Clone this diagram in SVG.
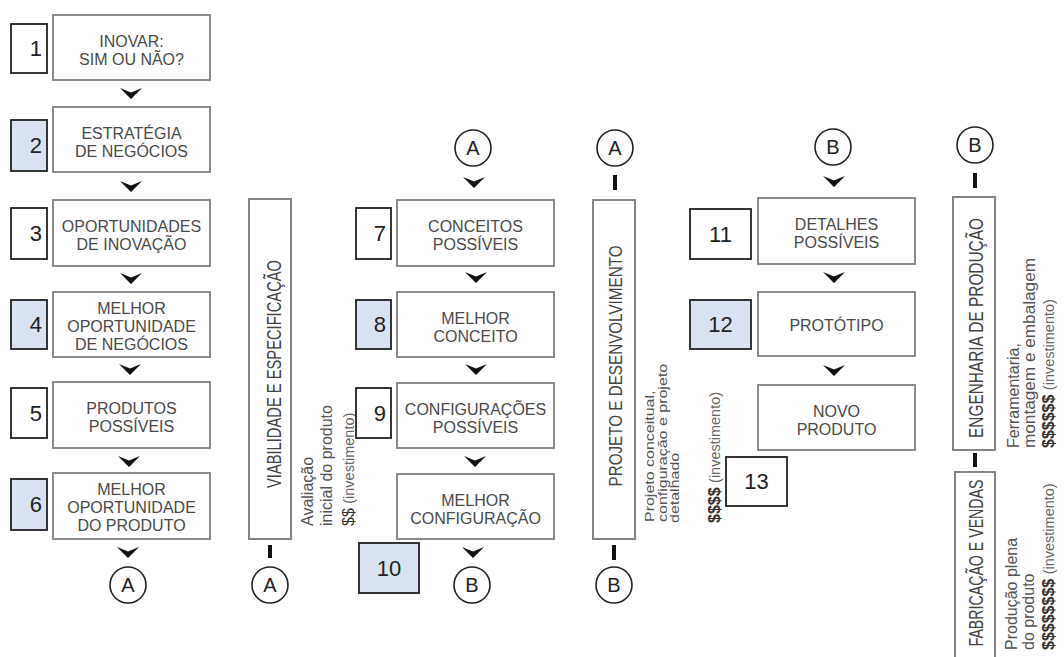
<svg xmlns="http://www.w3.org/2000/svg" width="1064" height="657" viewBox="0 0 1064 657">
  <style>
    text { font-family: "Liberation Sans", Arial, sans-serif; }
    .box { fill: #fff; stroke: #8c8c8c; stroke-width: 2; }
    .bar { fill: #fff; stroke: #858585; stroke-width: 2; }
    .num { fill: #fff; stroke: #222; stroke-width: 1.8; }
    .num.hl { fill: #d9e2f0; }
    .lbl { font-size: 16px; fill: #4a4a4a; text-anchor: middle; }
    .digit { font-size: 22px; fill: #222; }
    .digit.r { text-anchor: end; }
    .digit.c { text-anchor: middle; }
    .vlbl { font-size: 15px; fill: #444; text-anchor: middle; }
    .note { font-size: 16px; fill: #555; }
    .cash { fill: #333; }
    .inv { font-size: 14.5px; fill: #666; }
    .circ { fill: #fff; stroke: #222; stroke-width: 1.6; }
    .clbl { font-size: 20px; fill: #222; text-anchor: middle; }
    .link { stroke: #111; stroke-width: 4; }
  </style>
  <defs>
    <path id="chev" d="M-11,0 L0,4.5 L11,0 L0,11 Z" fill="#111"/>
  </defs>

  <!-- connectors: arrowheads between steps and short joins to bars -->
  <g id="connectors">
    <use href="#chev" x="131" y="88"/>
    <use href="#chev" x="131" y="181"/>
    <use href="#chev" x="131" y="273"/>
    <use href="#chev" x="130" y="364"/>
    <use href="#chev" x="129" y="456"/>
    <use href="#chev" x="128" y="547"/>

    <use href="#chev" x="474" y="177"/>
    <use href="#chev" x="476" y="272"/>
    <use href="#chev" x="476" y="364"/>
    <use href="#chev" x="475" y="456"/>
    <use href="#chev" x="473" y="547"/>

    <use href="#chev" x="834" y="176"/>
    <use href="#chev" x="834" y="272"/>
    <use href="#chev" x="834" y="365"/>

    <line class="link" x1="615" y1="175" x2="615" y2="190"/>
    <line class="link" x1="975" y1="173" x2="975" y2="188"/>
    <line class="link" x1="975" y1="453" x2="975" y2="467"/>
    <line class="link" x1="270" y1="545" x2="270" y2="558"/>
    <line class="link" x1="614" y1="545" x2="614" y2="560"/>
  </g>

  <!-- column 1 -->
  <g id="step1">
    <rect class="box" x="53" y="15" width="157" height="65"/>
    <text class="lbl" x="131.5" y="46.5">INOVAR:</text>
    <text class="lbl" x="131.5" y="64.5">SIM OU NÃO?</text>
    <rect class="num" x="11" y="24" width="36" height="49"/>
    <text class="digit r" x="42" y="56">1</text>
  </g>
  <g id="step2">
    <rect class="box" x="53" y="107" width="157" height="65"/>
    <text class="lbl" x="131.5" y="138.5">ESTRATÉGIA</text>
    <text class="lbl" x="131.5" y="156.5">DE NEGÓCIOS</text>
    <rect class="num hl" x="11" y="120" width="36" height="51"/>
    <text class="digit r" x="42" y="153">2</text>
  </g>
  <g id="step3">
    <rect class="box" x="53" y="200" width="157" height="66"/>
    <text class="lbl" x="131.5" y="232">OPORTUNIDADES</text>
    <text class="lbl" x="131.5" y="250">DE INOVAÇÃO</text>
    <rect class="num" x="11" y="208" width="36" height="51"/>
    <text class="digit r" x="42" y="241">3</text>
  </g>
  <g id="step4">
    <rect class="box" x="53" y="292" width="157" height="65"/>
    <text class="lbl" x="131.5" y="313.5">MELHOR</text>
    <text class="lbl" x="131.5" y="331.5">OPORTUNIDADE</text>
    <text class="lbl" x="131.5" y="349.5">DE NEGÓCIOS</text>
    <rect class="num hl" x="11" y="300" width="36" height="49"/>
    <text class="digit r" x="42" y="332">4</text>
  </g>
  <g id="step5">
    <rect class="box" x="53" y="382" width="157" height="66"/>
    <text class="lbl" x="131.5" y="414">PRODUTOS</text>
    <text class="lbl" x="131.5" y="432">POSSÍVEIS</text>
    <rect class="num" x="11" y="388" width="36" height="50"/>
    <text class="digit r" x="42" y="421">5</text>
  </g>
  <g id="step6">
    <rect class="box" x="53" y="473" width="157" height="66"/>
    <text class="lbl" x="131.5" y="495">MELHOR</text>
    <text class="lbl" x="131.5" y="513">OPORTUNIDADE</text>
    <text class="lbl" x="131.5" y="531">DO PRODUTO</text>
    <rect class="num hl" x="11" y="479" width="36" height="51"/>
    <text class="digit r" x="42" y="512">6</text>
  </g>
  <g id="refA1">
    <circle class="circ" cx="128" cy="585" r="18"/>
    <text class="clbl" x="128" y="592">A</text>
  </g>

  <!-- phase bar: viabilidade -->
  <g id="phase-viabilidade">
    <rect class="bar" x="249" y="199" width="42" height="340"/>
    <text class="vlbl" transform="translate(281,374) rotate(-90) scale(1,1.3)" textLength="228" lengthAdjust="spacingAndGlyphs">VIABILIDADE E ESPECIFICAÇÃO</text>
    <text class="note" transform="translate(313,526) rotate(-90)">Avaliação</text>
    <text class="note" transform="translate(332,526) rotate(-90)">inicial do produto</text>
    <text class="note" transform="translate(354,526) rotate(-90)"><tspan class="cash">$$</tspan> <tspan class="inv">(investimento)</tspan></text>
  </g>
  <g id="refA2">
    <circle class="circ" cx="270" cy="585" r="18"/>
    <text class="clbl" x="270" y="592">A</text>
  </g>

  <!-- column 2 -->
  <g id="refA3">
    <circle class="circ" cx="473" cy="148" r="18"/>
    <text class="clbl" x="473" y="155">A</text>
  </g>
  <g id="step7">
    <rect class="box" x="397" y="200" width="157" height="66"/>
    <text class="lbl" x="475.5" y="232">CONCEITOS</text>
    <text class="lbl" x="475.5" y="250">POSSÍVEIS</text>
    <rect class="num" x="356" y="208" width="35" height="51"/>
    <text class="digit r" x="386" y="241">7</text>
  </g>
  <g id="step8">
    <rect class="box" x="397" y="292" width="157" height="65"/>
    <text class="lbl" x="475.5" y="323.5">MELHOR</text>
    <text class="lbl" x="475.5" y="341.5">CONCEITO</text>
    <rect class="num hl" x="356" y="300" width="35" height="49"/>
    <text class="digit r" x="386" y="332">8</text>
  </g>
  <g id="step9">
    <rect class="box" x="397" y="383" width="157" height="65"/>
    <text class="lbl" x="475.5" y="414.5">CONFIGURAÇÕES</text>
    <text class="lbl" x="475.5" y="432.5">POSSÍVEIS</text>
    <rect class="num" x="356" y="388" width="35" height="50"/>
    <text class="digit r" x="386" y="421">9</text>
  </g>
  <g id="step10">
    <rect class="box" x="397" y="474" width="157" height="65"/>
    <text class="lbl" x="475.5" y="505.5">MELHOR</text>
    <text class="lbl" x="475.5" y="523.5">CONFIGURAÇÃO</text>
    <rect class="num hl" x="359" y="543" width="60" height="50"/>
    <text class="digit c" x="389" y="576">10</text>
  </g>
  <g id="refB1">
    <circle class="circ" cx="472" cy="585" r="18"/>
    <text class="clbl" x="472" y="592">B</text>
  </g>

  <!-- phase bar: projeto -->
  <g id="refA4">
    <circle class="circ" cx="615" cy="148" r="18"/>
    <text class="clbl" x="615" y="155">A</text>
  </g>
  <g id="phase-projeto">
    <rect class="bar" x="593" y="200" width="42" height="339"/>
    <text class="vlbl" transform="translate(622,366) rotate(-90) scale(1,1.25)" textLength="241" lengthAdjust="spacingAndGlyphs">PROJETO E DESENVOLVIMENTO</text>
    <text class="note" transform="translate(654,522) rotate(-90) scale(1,0.85)">Projeto conceitual,</text>
    <text class="note" transform="translate(667,522) rotate(-90) scale(1,0.85)">configuração e projeto</text>
    <text class="note" transform="translate(679,523) rotate(-90) scale(1,0.85)">detalhado</text>
    <text class="note" transform="translate(720,523) rotate(-90)"><tspan class="cash" font-weight="bold">$$$$</tspan> <tspan class="inv">(investimento)</tspan></text>
  </g>
  <g id="refB2">
    <circle class="circ" cx="614" cy="585" r="18"/>
    <text class="clbl" x="614" y="592">B</text>
  </g>

  <!-- column 3 -->
  <g id="refB3">
    <circle class="circ" cx="833" cy="147" r="18"/>
    <text class="clbl" x="833" y="154">B</text>
  </g>
  <g id="step11">
    <rect class="box" x="758" y="198" width="157" height="66"/>
    <text class="lbl" x="836.5" y="230">DETALHES</text>
    <text class="lbl" x="836.5" y="248">POSSÍVEIS</text>
    <rect class="num" x="690" y="209" width="61" height="50"/>
    <text class="digit c" x="720.5" y="242">11</text>
  </g>
  <g id="step12">
    <rect class="box" x="758" y="292" width="157" height="64"/>
    <text class="lbl" x="836.5" y="331">PROTÓTIPO</text>
    <rect class="num hl" x="690" y="300" width="61" height="49"/>
    <text class="digit c" x="720.5" y="332">12</text>
  </g>
  <g id="step13">
    <rect class="box" x="758" y="385" width="157" height="65"/>
    <text class="lbl" x="836.5" y="416.5">NOVO</text>
    <text class="lbl" x="836.5" y="434.5">PRODUTO</text>
    <rect class="num" x="726" y="457" width="61" height="49"/>
    <text class="digit c" x="756.5" y="489">13</text>
  </g>

  <!-- phase bars: engenharia / fabricação -->
  <g id="refB4">
    <circle class="circ" cx="975" cy="145" r="18"/>
    <text class="clbl" x="975" y="152">B</text>
  </g>
  <g id="phase-engenharia">
    <rect class="bar" x="953" y="197" width="42" height="253"/>
    <text class="vlbl" transform="translate(983,328) rotate(-90) scale(1,1.3)" textLength="220" lengthAdjust="spacingAndGlyphs">ENGENHARIA DE PRODUÇÃO</text>
    <text class="note" transform="translate(1019,448) rotate(-90)">Ferramentaria,</text>
    <text class="note" transform="translate(1035,448) rotate(-90)" textLength="190" lengthAdjust="spacingAndGlyphs">montagem e embalagem</text>
    <text class="note" transform="translate(1054,448) rotate(-90)"><tspan class="cash" font-weight="bold">$$$$$$</tspan> <tspan class="inv">(investimento)</tspan></text>
  </g>
  <g id="phase-fabricacao">
    <rect class="bar" x="955" y="472" width="40" height="200"/>
    <text class="vlbl" transform="translate(983,563) rotate(-90) scale(1,1.3)" textLength="167" lengthAdjust="spacingAndGlyphs">FABRICAÇÃO E VENDAS</text>
    <text class="note" transform="translate(1017,650) rotate(-90)">Produção plena</text>
    <text class="note" transform="translate(1034,650) rotate(-90)">do produto</text>
    <text class="note" transform="translate(1054,650) rotate(-90)"><tspan class="cash" font-weight="bold">$$$$$$$$</tspan> <tspan class="inv">(investimento)</tspan></text>
  </g>
</svg>
